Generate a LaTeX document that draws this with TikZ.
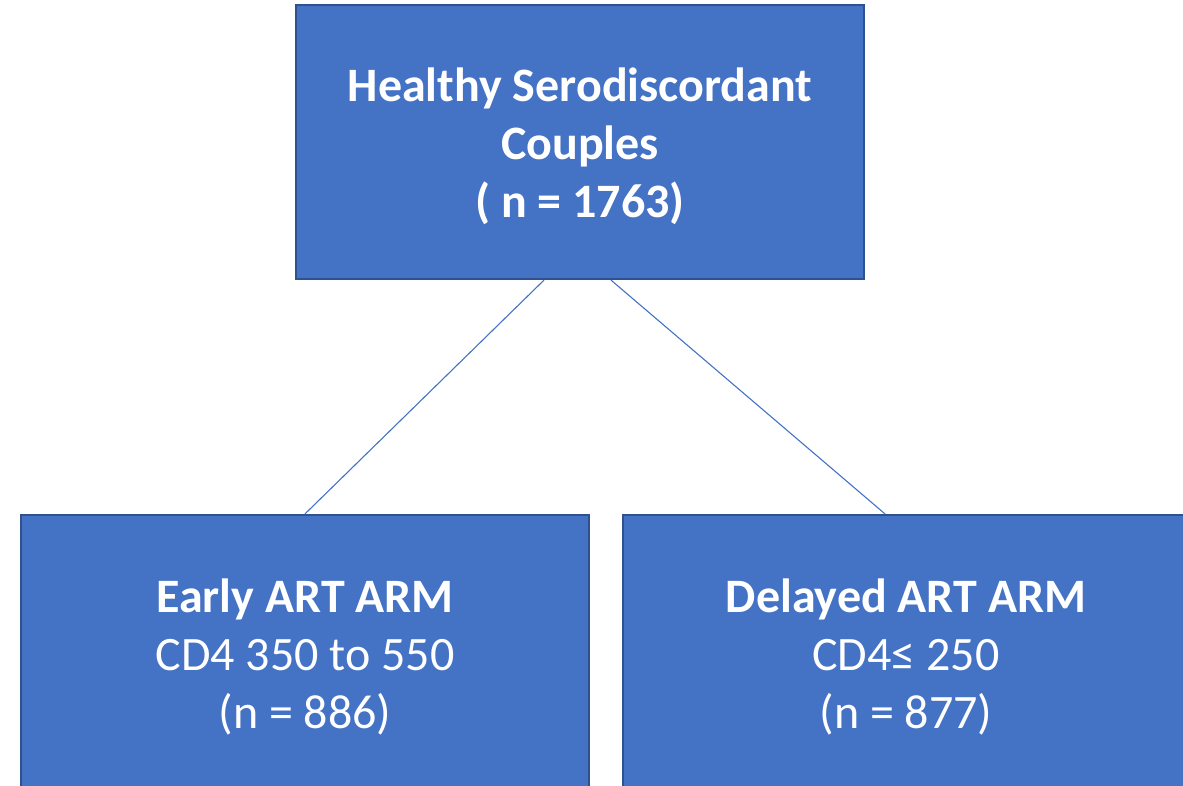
\documentclass[tikz,border=0pt]{standalone}
\usepackage{fontspec}
\setmainfont{Carlito}
\definecolor{boxfill}{HTML}{4472C4}
\definecolor{boxedge}{HTML}{2F528F}
\tikzset{
  x=1pt,y=1pt,
  armbox/.style={draw=boxedge, fill=boxfill, line width=2.2pt, inner sep=0pt},
  armtext/.style={text=white, align=center, inner sep=0pt,
    font=\fontsize{48}{58}\selectfont},
  link/.style={draw=boxfill, line width=1.1pt}
}
\begin{document}
\begin{tikzpicture}
\clip (0,0) rectangle (1183,-785);
\node[armbox, minimum width=568pt, minimum height=274pt] (top) at (580,-142) {};
\node[armbox, minimum width=568pt, minimum height=280pt] (early) at (305,-655) {};
\node[armbox, minimum width=566pt, minimum height=280pt] (delayed) at (906,-655) {};
\node[armtext] (toptext) at ([yshift=-4pt]top.center)
  {\bfseries Healthy Serodiscordant\\\bfseries Couples\\\bfseries ( n = 1763)};
\node[armtext] (earlytext) at ([yshift=-2pt]early.center)
  {\bfseries Early ART ARM\\CD4 350 to 550\\(n = 886)};
\node[armtext] (delayedtext) at ([yshift=-2pt]delayed.center)
  {\bfseries Delayed ART ARM\\CD4≤ 250\\(n = 877)};
\draw[link] ([xshift=-36pt]top.south) -- (early.north);
\draw[link] ([xshift=31pt]top.south) -- ([xshift=-21pt]delayed.north);
\end{tikzpicture}
\end{document}
